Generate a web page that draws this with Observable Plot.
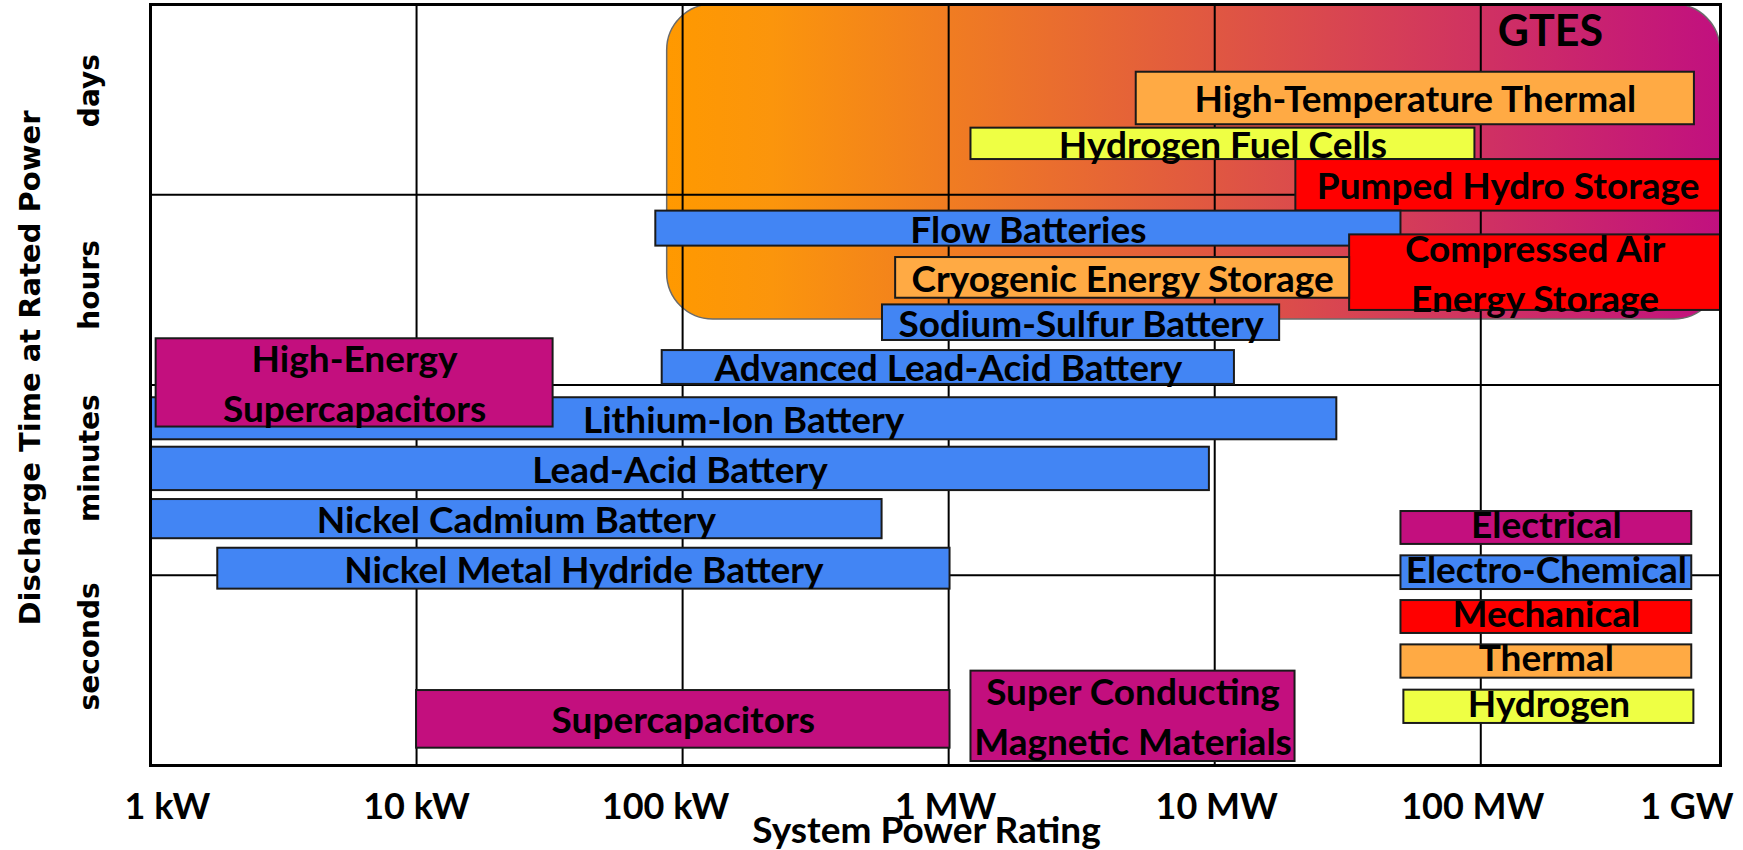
<!DOCTYPE html>
<html>
<head>
<meta charset="utf-8">
<script src="https://cdn.jsdelivr.net/npm/d3@7"></script>
<script src="https://cdn.jsdelivr.net/npm/@observablehq/plot@0.6"></script>
<style>
  html, body { margin: 0; padding: 0; background: #ffffff; }
  #chart { width: 1743px; height: 850px; }
</style>
</head>
<body>
<div id="chart"></div>
<script>
// ---------------- DATA ----------------
// Categories and their colours
const categories = ["Electrical", "Electro-Chemical", "Mechanical", "Thermal", "Hydrogen"];
const categoryColors = ["#c30f7e", "#4285f4", "#ff0000", "#ffaa44", "#eeff44"];

// Technologies: power range in kW (log x), discharge time in "band" units
// (0-1 seconds, 1-2 minutes, 2-3 hours, 3-4 days)
const techNames = [
  "High-Temperature Thermal",
  "Hydrogen Fuel Cells",
  "Pumped Hydro Storage",
  "Flow Batteries",
  "Compressed Air\nEnergy Storage",
  "Cryogenic Energy Storage",
  "Sodium-Sulfur Battery",
  "Advanced Lead-Acid Battery",
  "Lithium-Ion Battery",
  "High-Energy\nSupercapacitors",
  "Lead-Acid Battery",
  "Nickel Cadmium Battery",
  "Nickel Metal Hydride Battery",
  "Supercapacitors",
  "Super Conducting\nMagnetic Materials"
];
const techCategory = [
  "Thermal", "Hydrogen", "Mechanical", "Electro-Chemical", "Mechanical",
  "Thermal", "Electro-Chemical", "Electro-Chemical", "Electro-Chemical", "Electrical",
  "Electro-Chemical", "Electro-Chemical", "Electro-Chemical", "Electrical", "Electrical"
];
const powerMinKW = [5070, 1213, 20180, 79.3, 32140, 632, 564, 83.8, 1, 1.05, 1, 1, 1.79, 10, 1213];
const powerMaxKW = [635300, 95060, 796200, 50120, 796200, 32140, 17540, 11860, 28770, 32.6, 9550, 562, 1012, 1012, 20040];
const durationLow  = [3.368, 3.185, 2.914, 2.730, 2.392, 2.456, 2.234, 2.003, 1.712, 1.779, 1.445, 1.192, 0.927, 0.091, 0.021];
const durationHigh = [3.644, 3.350, 3.185, 2.914, 2.789, 2.670, 2.421, 2.181, 1.933, 2.243, 1.673, 1.398, 1.142, 0.394, 0.496];

// GTES envelope
const gtesName = "GTES";
const gtesPowerKW = [87.5, 796200];
const gtesDuration = [2.344, 4.0];
const gtesLabelAt = [182800, 3.853];

// Legend boxes (drawn inside the plot area)
const legendPowerMinKW = [50120, 50120, 50120, 50120, 51400];
const legendPowerMaxKW = [620900, 620900, 620900, 620900, 632400];
const legendLow  = [1.162, 0.925, 0.694, 0.459, 0.221];
const legendHigh = [1.335, 1.102, 0.867, 0.634, 0.396];

// Axes
const xDomainKW = [1, 796200];
const xGridKW = [10, 100, 1000, 10000, 100000];
const xTickKW = [1, 10, 100, 1000, 10000, 100000, 1000000];
const xTickLabels = ["1 kW", "10 kW", "100 kW", "1 MW", "10 MW", "100 MW", "1 GW"];
const yGrid = [1, 2, 3];
const yBandLabels = ["seconds", "minutes", "hours", "days"];
const yBandCenters = [0.5, 1.5, 2.5, 3.5];
const xTitle = "System Power Rating";
const yTitle = "Discharge Time at Rated Power";

// ---------------- BUILD ----------------
const techs = techNames.map((name, i) => ({
  name, cat: techCategory[i],
  x1: powerMinKW[i], x2: powerMaxKW[i],
  y1: durationLow[i], y2: durationHigh[i]
}));
const legend = categories.map((cat, i) => ({
  name: cat, cat,
  x1: legendPowerMinKW[i], x2: legendPowerMaxKW[i],
  y1: legendLow[i], y2: legendHigh[i]
}));
const gtes = [{x1: gtesPowerKW[0], x2: gtesPowerKW[1], y1: gtesDuration[0], y2: gtesDuration[1]}];

const labelFont = "Lato, 'Open Sans', sans-serif";
const axisFont = "'DejaVu Sans', Verdana, sans-serif";
const xTickNudge = [17, 0, -17, -3, 2, -8, -60];
const yTickNudge = [-24, -22, -5, -9];

const marks = [
  // GTES envelope
  Plot.rect(gtes, {x1: "x1", x2: "x2", y1: "y1", y2: "y2",
    fill: "url(#gtesGrad)", stroke: "#6b6b6b", strokeWidth: 1.5, rx: 46}),
  Plot.text([gtesName], {x: [gtesLabelAt[0]], y: [gtesLabelAt[1]], text: d => d,
    fontFamily: labelFont, fontWeight: "bold", fontSize: 43, fill: "#000"}),
  // grid
  Plot.ruleX(xGridKW, {stroke: "#000", strokeWidth: 2}),
  Plot.ruleY(yGrid, {stroke: "#000", strokeWidth: 2}),
  // bars
  Plot.rect(techs, {x1: "x1", x2: "x2", y1: "y1", y2: "y2", fill: "cat",
    stroke: "#1a1a1a", strokeWidth: 2}),
  Plot.text(techs, {x: d => Math.sqrt(d.x1 * d.x2), y: d => (d.y1 + d.y2) / 2, text: "name",
    fontFamily: labelFont, fontWeight: "bold", fontSize: 37, lineHeight: 1.35,
    lineAnchor: "middle", dy: -2, fill: "#000"}),
  // legend
  Plot.rect(legend, {x1: "x1", x2: "x2", y1: "y1", y2: "y2", fill: "cat",
    stroke: "#1a1a1a", strokeWidth: 2}),
  Plot.text(legend, {x: d => Math.sqrt(d.x1 * d.x2), y: d => (d.y1 + d.y2) / 2, text: "name",
    fontFamily: labelFont, fontWeight: "bold", fontSize: 37, lineAnchor: "middle", dy: -2, fill: "#000"}),
  // frame
  Plot.frame({stroke: "#000", strokeWidth: 3}),
  // x tick labels
  ...xTickKW.map((v, i) => Plot.text([xTickLabels[i]], {x: [v], text: d => d,
    frameAnchor: "bottom", dy: 42, dx: xTickNudge[i], lineAnchor: "middle",
    fontFamily: labelFont, fontWeight: "bold", fontSize: 36, fill: "#000", clip: false})),
  // y band labels
  ...yBandCenters.map((v, i) => Plot.text([yBandLabels[i]], {y: [v], text: d => d,
    frameAnchor: "left", dx: -60, dy: yTickNudge[i], rotate: -90, lineAnchor: "middle",
    textAnchor: "middle", fontFamily: axisFont, fontWeight: "bold", fontSize: 28, fill: "#000"})),
  // axis titles
  Plot.text([yTitle], {frameAnchor: "left", text: d => d, dx: -120, dy: -17, rotate: -90,
    lineAnchor: "middle", textAnchor: "middle", fontFamily: axisFont, fontWeight: "bold",
    fontSize: 29, fill: "#000"}),
  Plot.text([xTitle], {frameAnchor: "bottom", text: d => d, dx: -9, dy: 66,
    lineAnchor: "middle", fontFamily: labelFont, fontWeight: "bold", fontSize: 37, fill: "#000"})
];

const chart = Plot.plot({
  width: 1743,
  height: 850,
  marginLeft: 150,
  marginRight: 23,
  marginTop: 4,
  marginBottom: 85,
  style: {background: "#ffffff", fontFamily: labelFont, overflow: "visible"},
  x: {type: "log", domain: xDomainKW, axis: null},
  y: {type: "linear", domain: [0, 4], axis: null},
  color: {domain: categories, range: categoryColors, legend: false},
  marks
});

// gradient definition for the GTES envelope
const ns = "http://www.w3.org/2000/svg";
const defs = document.createElementNS(ns, "defs");
const grad = document.createElementNS(ns, "linearGradient");
grad.setAttribute("id", "gtesGrad");
grad.setAttribute("x1", "0"); grad.setAttribute("x2", "1");
grad.setAttribute("y1", "0"); grad.setAttribute("y2", "0");
[["0", "#ff9900"], ["0.1", "#fb950c"], ["1", "#c1107f"]].forEach(([o, c]) => {
  const s = document.createElementNS(ns, "stop");
  s.setAttribute("offset", o); s.setAttribute("stop-color", c);
  grad.appendChild(s);
});
defs.appendChild(grad);
chart.insertBefore(defs, chart.firstChild);

document.getElementById("chart").appendChild(chart);
</script>
</body>
</html>
